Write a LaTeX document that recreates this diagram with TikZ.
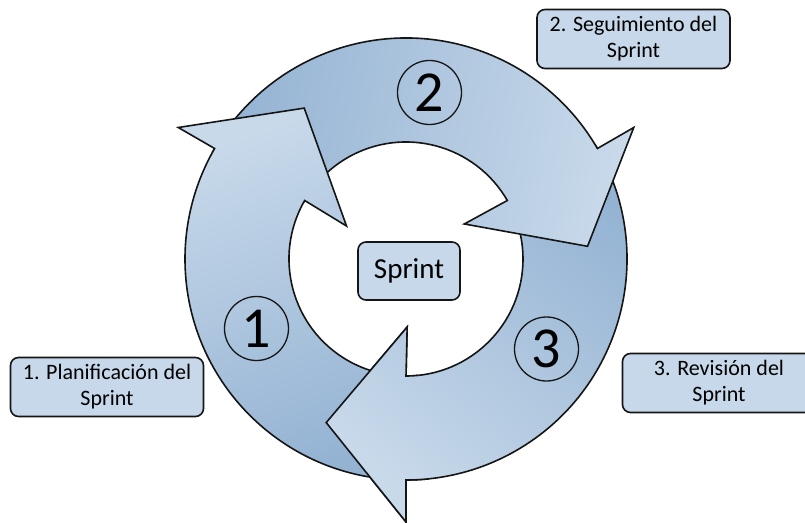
\documentclass[tikz,border=0pt]{standalone}
\usepackage{fontspec}
\setmainfont{Carlito}
\usetikzlibrary{positioning}
\definecolor{bandlight}{HTML}{C8D9EA}
\definecolor{banddark}{HTML}{94B3D3}
\definecolor{boxfill}{HTML}{C6D8EA}
\definecolor{ink}{HTML}{151515}
\tikzset{
  ring/.style={draw=ink,line width=1.6pt,line join=miter,top color=bandlight,bottom color=banddark},
  stagebox/.style={draw=ink,line width=1.6pt,rounded corners=8pt,fill=boxfill,minimum width=193pt,minimum height=59pt,align=center,inner sep=2pt,font=\fontsize{22}{26}\selectfont},
  corebox/.style={stagebox,minimum width=102pt,minimum height=58pt,font=\fontsize{29}{32}\selectfont},
  stepnum/.style={circle,draw=ink,line width=1.3pt,minimum size=64pt,inner sep=0pt,font=\fontsize{58}{60}\selectfont},
}
% one arrow of the cycle, rotated by #1 degrees
\newcommand{\ringarrow}[1]{(#1+271:221pt) arc[start angle=#1+271,end angle=#1+150,radius=221pt]
  -- (#1+150:263pt) -- (#1+124:182pt) -- (#1+151:68pt) -- (#1+150:117pt)
  arc[start angle=#1+150,end angle=#1+271,radius=117pt] -- cycle}

\begin{document}
\begin{tikzpicture}[x=1pt,y=1pt]
\useasboundingbox (-406,-263) rectangle (399,259);

\foreach \o/\sa in {-240/140,-120/-100,0/20}
  \path[ring,shading angle=\sa] \ringarrow{\o};
% head of arrow 3 lies over the tail of arrow 1
\begin{scope}
  \clip (0,0) -- (-124:300pt) arc[start angle=-124,end angle=-84,radius=300pt] -- cycle;
  \path[ring,shading angle=140] \ringarrow{-240};
\end{scope}

\node[stepnum] (n1) at (-149.5,-69.5) {1};
\node[stepnum] (n2) at (23.5,166.5) {2};
\node[stepnum] (n3) at (140.5,-90) {3};

\node[corebox] (sprint) at (3,-12) {Sprint};
\node[stagebox] (plan) at (-299,-128) {1. Planificación del\\Sprint};
\node[stagebox] (track) at (227.5,220) {2. Seguimiento del\\Sprint};
\node[stagebox] (review) at (313,-124) {3. Revisión del\\Sprint};
\end{tikzpicture}
\end{document}
